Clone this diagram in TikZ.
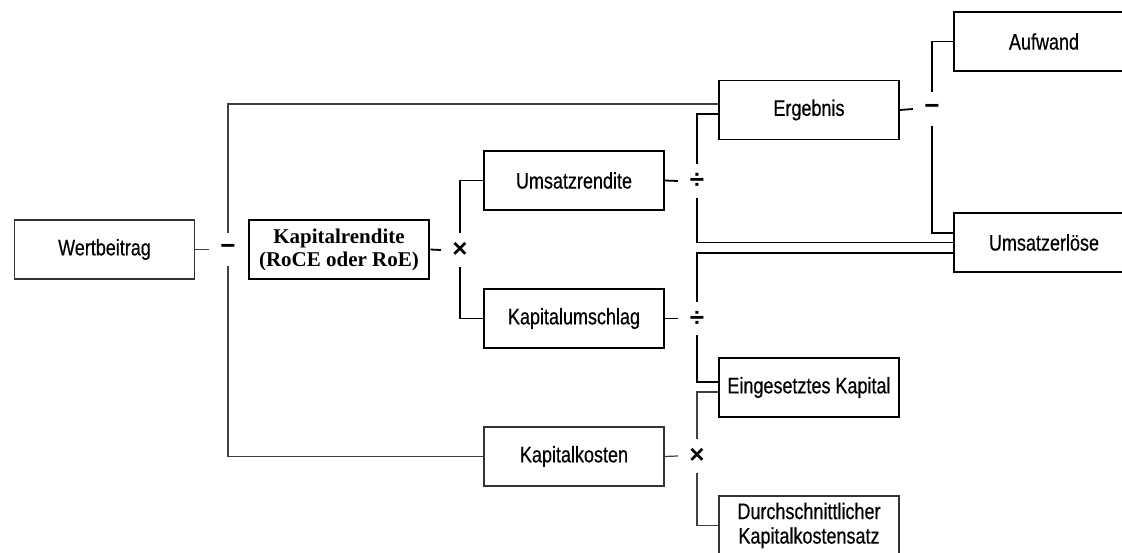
\documentclass[tikz,border=0pt]{standalone}
\usepackage{fontspec}
\newfontfamily\cond{Liberation Sans}[FakeStretch=0.80, FakeBold=0.4]
\newfontfamily\opfont{Liberation Sans}
\newfontfamily\serifb{Liberation Serif}
\begin{document}
\begin{tikzpicture}[x=1pt,y=-1pt,
  box/.style={draw, rectangle, minimum width=180pt, minimum height=59pt, inner sep=0pt, align=center, font=\cond\fontsize{22.5}{24.5}\selectfont},
  thinbox/.style={box, line width=1.2pt, draw=black!80},
  medbox/.style={box, line width=1.8pt},
  thickbox/.style={box, line width=2.8pt, font=\serifb\bfseries\fontsize{21}{23}\selectfont},
  op/.style={inner sep=0pt, minimum width=38pt, minimum height=33pt, font=\opfont\bfseries\fontsize{26}{26}\selectfont},
  thinline/.style={line width=1.2pt, draw=black!75},
  medline/.style={line width=1.8pt}]
\useasboundingbox (0,0) rectangle (1122,552);
\fill[white] (0,0) rectangle (1122,552);
% boxes
\node[thinbox]  (wert) at (104.5,249.5) {Wertbeitrag};
\node[thickbox] (kr)   at (339,249.5)   {Kapitalrendite\\(RoCE oder RoE)};
\node[medbox]   (ur)   at (574,180.5)   {Umsatzrendite};
\node[medbox]   (ku)   at (574,318.5)   {Kapitalumschlag};
\node[thinbox]  (kk)   at (574,456.5)   {Kapitalkosten};
\node[medbox]   (erg)  at (809,110)     {Ergebnis};
\node[medbox]   (ek)   at (809,387.5)   {Eingesetztes Kapital};
\node[thinbox]  (dk)   at (809,525.5)   {Durchschnittlicher\\Kapitalkostensatz};
\node[medbox]   (auf)  at (1044,41.5)   {Aufwand};
\node[medbox]   (ue)   at (1044,242.5)  {Umsatzerlöse};
% operators
\node[op] (m1) at (228,249.5) {−};
\node[op] (x1) at (460,250)   {×};
\node[op] (d1) at (697,181)   {÷};
\node[op] (d2) at (697,318.5) {÷};
\node[op] (x2) at (697,456)   {×};
\node[op] (m2) at (932,109)   {−};
% connectors
\draw[thinline] (wert.east) -- (m1.west);
\draw[thinline] (m1.north) |- ([yshift=6pt]erg.west);
\draw[thinline] (m1.south) |- (kk.west);
\draw[medline] (kr.east) -- (x1.west);
\draw[medline] (x1.north) |- (ur.west);
\draw[medline] (x1.south) |- (ku.west);
\draw[medline] (ur.east) -- (d1.west);
\draw[medline] (d1.north) |- ([yshift=-4pt]erg.west);
\draw[medline] (d1.south) |- (ue.west);
\draw[medline] (ku.east) -- (d2.west);
\draw[medline] (d2.north) |- ([yshift=-10.5pt]ue.west);
\draw[medline] (d2.south) |- ([yshift=5.5pt]ek.west);
\draw[thinline] (kk.east) -- (x2.west);
\draw[thinline] (x2.north) |- ([yshift=-4.5pt]ek.west);
\draw[thinline] (x2.south) |- (dk.west);
\draw[medline] (erg.east) -- (m2.west);
\draw[medline] (m2.north) |- (auf.west);
\draw[medline] (m2.south) |- ([yshift=9.5pt]ue.west);
\end{tikzpicture}
\end{document}
